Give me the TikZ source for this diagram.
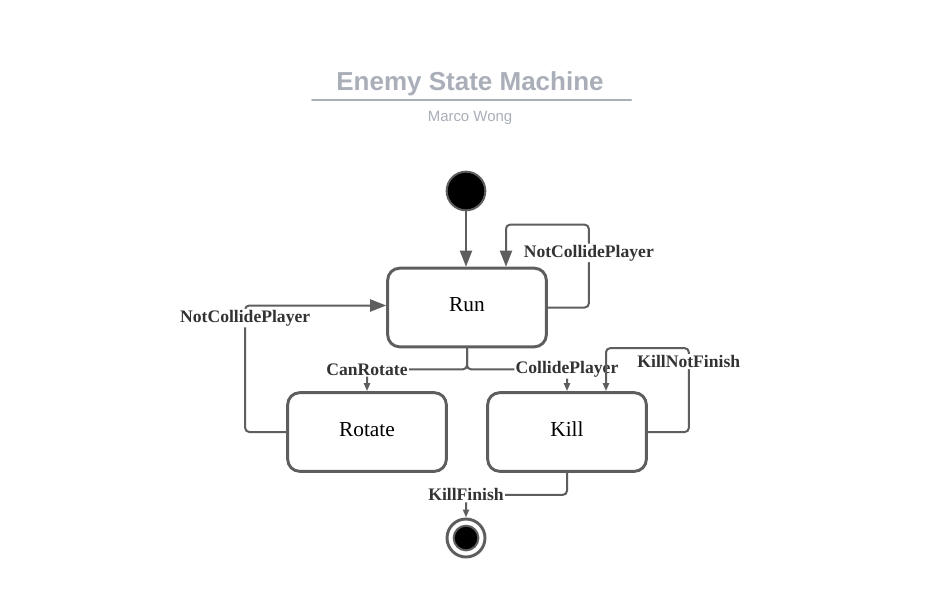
\documentclass[tikz,border=0pt]{standalone}
\usepackage{fontspec}
\setmainfont{Liberation Serif}
\newfontfamily\titlefont{Liberation Sans}
\usetikzlibrary{arrows.meta,calc}
\definecolor{linegray}{HTML}{5E5E5E}
\definecolor{titlegray}{HTML}{A9AEB8}
\definecolor{labelgray}{HTML}{333333}
\begin{document}
\begin{tikzpicture}[line join=round, line cap=round, x=0.75pt, y=-0.75pt,
  >={Triangle[width=9pt,length=12pt]},
  smalltip/.tip={Triangle[width=4.5pt,length=6pt]},
  state/.style={draw=linegray, line width=2.2pt, rounded corners=9pt, minimum width=119pt, minimum height=59pt, text depth=4pt, font=\fontsize{16}{18}\selectfont},
  conn/.style={draw=linegray, line width=1.5pt, rounded corners=3pt},
  lbl/.style={fill=white, inner sep=1pt, text=labelgray, font=\bfseries\fontsize{13.2}{15}\selectfont},
  initst/.style={circle, fill=black, draw=linegray, line width=1.5pt, minimum size=29pt, inner sep=0pt},
  finalst/.style={circle, fill=white, draw=linegray, line width=2.2pt, minimum size=28.5pt, inner sep=0pt}]
\def\gap{21}
\def\loopw{41}
\fill[white] (0,0) rectangle (934,599);
% title
\node[text=titlegray, font=\titlefont\bfseries\fontsize{19.5}{22}\selectfont] (title) at (470,83.5) {Enemy State Machine};
\draw[titlegray, line width=1.5pt] (312,100) -- (631,100);
\node[text=titlegray, font=\titlefont\fontsize{11.2}{13}\selectfont] (author) at (470,117.5) {Marco Wong};
% states
\foreach \n/\x/\y/\t in {run/467/307.5/Run, rotate/367/432/Rotate, kill/567/432/Kill}{\node[state] (\n) at (\x,\y) {\t};}
\node[initst] (init) at (466,191) {};
\node[finalst] (final) at (466,538) {};
\node[initst, minimum size=18.5pt] (finaldot) at (final) {};
% transitions
\draw[conn,->] (init.south) -- (init.south |- run.north);
\draw[conn,->] (run.east) -- ++(\loopw,0) |- node[lbl,pos=0.33]{NotCollidePlayer} ($(run.north)+(39,-42)$) -- ($(run.north)+(39,0)$);
\draw[conn,->] (rotate.west) -- ++(-\loopw,0) |- node[lbl,pos=0.45]{NotCollidePlayer} ($(run.west)+(0,-2)$);
\draw[conn,-smalltip] (run.south) -- ++(0,\gap) -| node[lbl]{CanRotate} (rotate.north);
\draw[conn,-smalltip] (run.south) -- ++(0,\gap) -| node[lbl]{CollidePlayer} (kill.north);
\draw[conn,-smalltip] (kill.east) -- ++(\loopw,0) |- node[lbl,pos=0.42]{KillNotFinish} ($(kill.north)+(39,-43)$) -- ($(kill.north)+(39,0)$);
\draw[conn,-smalltip] (kill.south) -- ++(0,22) -| node[lbl]{KillFinish} (final.north);
\end{tikzpicture}
\end{document}
